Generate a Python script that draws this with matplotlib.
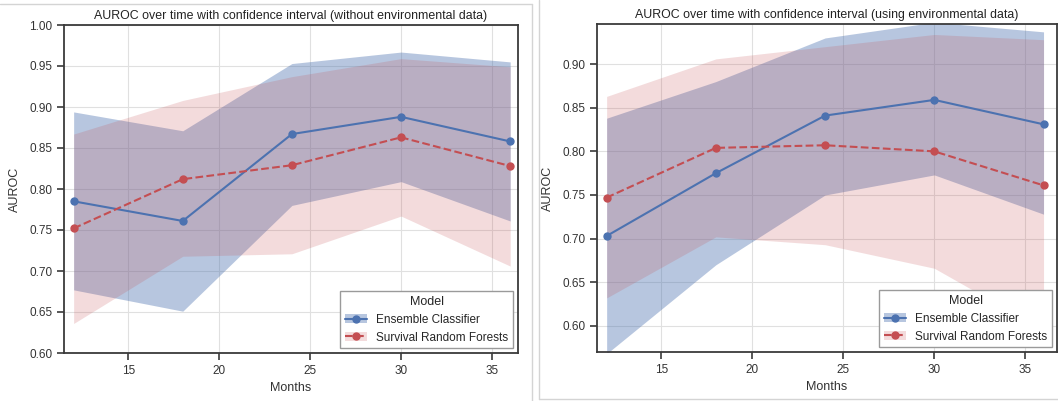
import matplotlib
matplotlib.use("Agg")
import matplotlib.pyplot as plt
from matplotlib.patches import Patch
from matplotlib.lines import Line2D
import seaborn as sns

sns.set_style("ticks")
plt.rcParams['font.family'] = ['Liberation Sans', 'DejaVu Sans']

months = [12, 18, 24, 30, 36]

# without environmental data
ens_no = [0.785, 0.761, 0.867, 0.888, 0.858]
ens_no_lo = [0.677, 0.651, 0.780, 0.809, 0.761]
ens_no_hi = [0.894, 0.871, 0.953, 0.967, 0.955]
srf_no = [0.752, 0.812, 0.829, 0.863, 0.828]
srf_no_lo = [0.636, 0.718, 0.721, 0.767, 0.706]
srf_no_hi = [0.867, 0.908, 0.937, 0.959, 0.949]

# using environmental data
ens_env = [0.703, 0.775, 0.841, 0.859, 0.831]
ens_env_lo = [0.568, 0.670, 0.750, 0.773, 0.728]
ens_env_hi = [0.838, 0.880, 0.930, 0.948, 0.937]
srf_env = [0.747, 0.804, 0.807, 0.800, 0.761]
srf_env_lo = [0.632, 0.702, 0.693, 0.666, 0.595]
srf_env_hi = [0.863, 0.906, 0.920, 0.934, 0.928]

blue = '#4C72B0'
red = '#C44E52'
fs = 8.5

W, H = 1058, 401
fig = plt.figure(figsize=(W / 100, H / 100), dpi=100)

# screenshot frames
fig.add_artist(Line2D([0, 532 / W], [1 - 4 / H, 1 - 4 / H], color='#d4d4d4', lw=1))
fig.add_artist(Line2D([532 / W, 532 / W], [0, 1 - 4 / H], color='#d4d4d4', lw=1))
fig.add_artist(Line2D([539 / W, 539 / W], [2 / H, 1], color='#d4d4d4', lw=1))
fig.add_artist(Line2D([539 / W, 1], [2 / H, 2 / H], color='#d4d4d4', lw=1))

ax1 = fig.add_axes([64 / W, (H - 353) / H, (518 - 64) / W, (353 - 25) / H])
ax2 = fig.add_axes([597 / W, (H - 352) / H, (1057 - 597) / W, (352 - 24) / H])


def draw(ax, ens, ens_lo, ens_hi, srf, srf_lo, srf_hi, title):
    ax.fill_between(months, ens_lo, ens_hi, color=blue, alpha=0.4, lw=0)
    ax.plot(months, ens, color=blue, lw=1.5, marker='o', ms=5)
    ax.fill_between(months, srf_lo, srf_hi, color=red, alpha=0.2, lw=0)
    ax.plot(months, srf, color=red, lw=1.5, ls='--', marker='o', ms=5)
    ax.grid(True, color='#e0e0e0', lw=0.8)
    ax.set_axisbelow(True)
    for s in ax.spines.values():
        s.set_color('#3a3a3a')
        s.set_linewidth(1.3)
    ax.tick_params(colors='#3a3a3a', labelcolor='#333333', labelsize=fs,
                   length=5, width=1.2)
    ax.set_title(title, fontsize=8.9, color='#222222', pad=4)
    ax.set_xlabel('Months', fontsize=fs + 0.5, color='#333333', labelpad=4)
    ax.set_ylabel('AUROC', fontsize=fs + 0.5, color='#333333', labelpad=6)
    ax.set_xticks([15, 20, 25, 30, 35])
    handles = [
        (Patch(facecolor=blue, alpha=0.4, lw=0), Line2D([], [], color=blue, lw=1.5, marker='o', ms=5)),
        (Patch(facecolor=red, alpha=0.2, lw=0), Line2D([], [], color=red, lw=1.5, ls='--', marker='o', ms=5)),
    ]
    leg = ax.legend(handles, ['Ensemble Classifier', 'Survival Random Forests'],
                    title='Model', loc='lower right', fontsize=fs, title_fontsize=fs + 0.5,
                    fancybox=False, framealpha=1, edgecolor='#9a9a9a',
                    borderaxespad=0.4, handlelength=1.9)
    leg.get_frame().set_linewidth(1.0)


draw(ax1, ens_no, ens_no_lo, ens_no_hi, srf_no, srf_no_lo, srf_no_hi,
     'AUROC over time with confidence interval (without environmental data)')
ax1.set_xlim(11.47, 36.43)
ax1.set_ylim(0.60, 1.00)
ax1.set_yticks([0.60, 0.65, 0.70, 0.75, 0.80, 0.85, 0.90, 0.95, 1.00])

draw(ax2, ens_env, ens_env_lo, ens_env_hi, srf_env, srf_env_lo, srf_env_hi,
     'AUROC over time with confidence interval (using environmental data)')
ax2.set_xlim(11.47, 36.74)
ax2.set_ylim(0.570, 0.946)
ax2.set_yticks([0.60, 0.65, 0.70, 0.75, 0.80, 0.85, 0.90])

for ax in (ax1, ax2):
    ax.yaxis.set_major_formatter(matplotlib.ticker.FormatStrFormatter('%.2f'))

fig.savefig('out.png', dpi=100)
